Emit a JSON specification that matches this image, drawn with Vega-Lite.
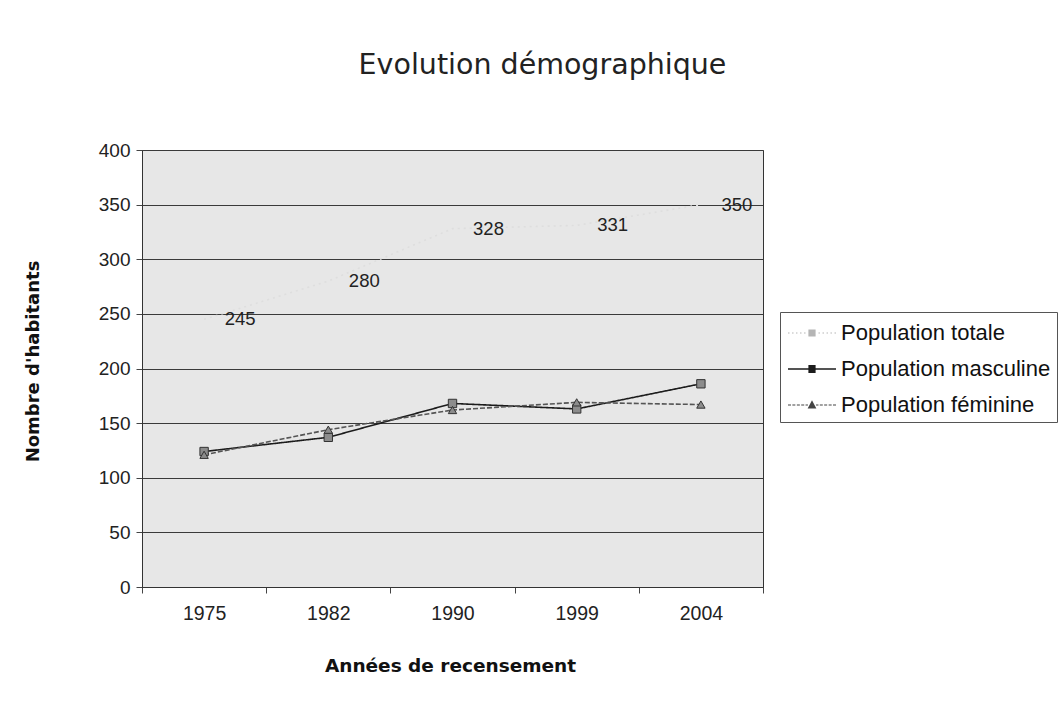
{
  "$schema": "https://vega.github.io/schema/vega-lite/v6.json",
  "width": 621,
  "height": 437,
  "autosize": "none",
  "padding": {"left": 142, "top": 150, "right": 295, "bottom": 123},
  "background": "white",
  "title": {
    "text": "Evolution démographique",
    "font": "DejaVu Sans",
    "fontSize": 28.5,
    "fontWeight": "normal",
    "color": "#222222",
    "anchor": "middle",
    "baseline": "alphabetic",
    "dx": 90,
    "offset": 39
  },
  "data": {
    "values": [
      {"annee": "1975", "serie": "Population totale", "valeur": 245},
      {"annee": "1982", "serie": "Population totale", "valeur": 280},
      {"annee": "1990", "serie": "Population totale", "valeur": 328},
      {"annee": "1999", "serie": "Population totale", "valeur": 331},
      {"annee": "2004", "serie": "Population totale", "valeur": 350},
      {"annee": "1975", "serie": "Population masculine", "valeur": 124},
      {"annee": "1982", "serie": "Population masculine", "valeur": 137},
      {"annee": "1990", "serie": "Population masculine", "valeur": 168},
      {"annee": "1999", "serie": "Population masculine", "valeur": 163},
      {"annee": "2004", "serie": "Population masculine", "valeur": 186},
      {"annee": "1975", "serie": "Population féminine", "valeur": 121},
      {"annee": "1982", "serie": "Population féminine", "valeur": 144},
      {"annee": "1990", "serie": "Population féminine", "valeur": 162},
      {"annee": "1999", "serie": "Population féminine", "valeur": 169},
      {"annee": "2004", "serie": "Population féminine", "valeur": 167}
    ]
  },
  "encoding": {
    "x": {
      "field": "annee",
      "type": "ordinal",
      "sort": null,
      "scale": {"type": "band", "paddingInner": 0, "paddingOuter": 0},
      "axis": {
        "title": "Années de recensement",
        "titleFont": "DejaVu Sans",
        "titleFontSize": 18.5,
        "titleFontWeight": "bold",
        "titleColor": "#111111",
        "titleX": 308,
        "titleY": 78,
        "titleBaseline": "middle",
        "titleAlign": "center",
        "labelAngle": 0,
        "labelFont": "Liberation Sans",
        "labelFontSize": 19.5,
        "labelColor": "#222222",
        "labelPadding": 11,
        "tickBand": "extent",
        "tickSize": 6,
        "tickColor": "#444444",
        "domainColor": "#333333",
        "grid": false
      }
    },
    "y": {
      "field": "valeur",
      "type": "quantitative",
      "scale": {"domain": [0, 400]},
      "axis": {
        "title": "Nombre d'habitants",
        "titleFont": "DejaVu Sans",
        "titleFontSize": 18,
        "titleFontWeight": "bold",
        "titleColor": "#111111",
        "titleX": -109,
        "titleY": 211,
        "titleAngle": -90,
        "titleAlign": "center",
        "titleBaseline": "middle",
        "values": [0, 50, 100, 150, 200, 250, 300, 350, 400],
        "labelFont": "Liberation Sans",
        "labelFontSize": 19,
        "labelColor": "#222222",
        "labelPadding": 6,
        "tickSize": 6,
        "tickColor": "#444444",
        "domainColor": "#333333",
        "grid": true,
        "gridColor": "#3a3a3a",
        "gridWidth": 1
      }
    }
  },
  "layer": [
    {
      "mark": {"type": "line", "strokeWidth": 1.6},
      "encoding": {
        "color": {
          "field": "serie",
          "type": "nominal",
          "scale": {
            "domain": ["Population totale", "Population masculine", "Population féminine"],
            "range": ["#dedede", "#1c1c1c", "#555555"]
          },
          "legend": null
        },
        "strokeDash": {
          "field": "serie",
          "type": "nominal",
          "scale": {
            "domain": ["Population totale", "Population masculine", "Population féminine"],
            "range": [[2, 4], [1, 0], [5, 2]]
          },
          "legend": null
        }
      }
    },
    {
      "transform": [{"filter": "datum.serie != 'Population totale'"}],
      "mark": {"type": "point", "filled": true, "fill": "#8c8c8c", "stroke": "#333333", "strokeWidth": 1, "opacity": 1, "size": 70},
      "encoding": {
        "shape": {
          "field": "serie",
          "type": "nominal",
          "scale": {
            "domain": ["Population masculine", "Population féminine"],
            "range": ["square", "triangle-up"]
          },
          "legend": null
        }
      }
    },
    {
      "transform": [{"filter": "datum.serie == 'Population totale'"}],
      "mark": {"type": "text", "font": "Liberation Sans", "fontSize": 18.5, "color": "#222222", "dx": 36, "align": "center", "baseline": "middle"},
      "encoding": {
        "text": {"field": "valeur", "type": "quantitative"}
      }
    },
    {
      "data": {
        "values": [
          {"legende": "Population totale"},
          {"legende": "Population masculine"},
          {"legende": "Population féminine"}
        ]
      },
      "transform": [{"filter": "false"}],
      "mark": {"type": "point", "filled": true, "opacity": 1},
      "encoding": {
        "x": {"value": 0},
        "y": {"value": 0},
        "color": {
          "field": "legende",
          "type": "nominal",
          "scale": {
            "domain": ["Population totale", "Population masculine", "Population féminine"],
            "range": ["#b5b5b5", "#1c1c1c", "#444444"]
          },
          "legend": {
            "title": null,
            "orient": "none",
            "legendX": 638,
            "legendY": 162,
            "direction": "vertical",
            "strokeColor": "#555555",
            "fillColor": "white",
            "padding": 6,
            "symbolSize": 900,
            "symbolOffset": 11,
            "symbolStrokeWidth": 0,
            "labelFont": "Liberation Sans",
            "labelFontSize": 22,
            "labelColor": "#111111",
            "labelOffset": 14,
            "labelLimit": 300,
            "rowPadding": 10
          }
        },
        "shape": {
          "field": "legende",
          "type": "nominal",
          "scale": {
            "domain": ["Population totale", "Population masculine", "Population féminine"],
            "range": [
              "M-1.6,-0.04H-1.5V0.04H-1.6Z M-1.33,-0.04H-1.23V0.04H-1.33Z M-1.07,-0.04H-0.97V0.04H-1.07Z M-0.8,-0.04H-0.7V0.04H-0.8Z M-0.53,-0.04H-0.43V0.04H-0.53Z M-0.24,-0.24H0.24V0.24H-0.24Z M0.43,-0.04H0.53V0.04H0.43Z M0.7,-0.04H0.8V0.04H0.7Z M0.97,-0.04H1.07V0.04H0.97Z M1.23,-0.04H1.33V0.04H1.23Z M1.5,-0.04H1.6V0.04H1.5Z",
              "M-1.6,-0.05H1.6V0.05H-1.6Z M-0.24,-0.27H0.24V0.27H-0.24Z",
              "M-1.6,-0.04H-1.4V0.04H-1.6Z M-1.31,-0.04H-1.11V0.04H-1.31Z M-1.01,-0.04H-0.81V0.04H-1.01Z M-0.72,-0.04H-0.52V0.04H-0.72Z M-0.43,-0.04H-0.27V0.04H-0.43Z M0,-0.32L0.29,0.24H-0.29Z M0.27,-0.04H0.43V0.04H0.27Z M0.52,-0.04H0.72V0.04H0.52Z M0.81,-0.04H1.01V0.04H0.81Z M1.11,-0.04H1.31V0.04H1.11Z M1.4,-0.04H1.6V0.04H1.4Z"
            ]
          },
          "legend": {
            "title": null,
            "orient": "none",
            "legendX": 638,
            "legendY": 162,
            "direction": "vertical",
            "strokeColor": "#555555",
            "fillColor": "white",
            "padding": 6,
            "symbolSize": 900,
            "symbolOffset": 11,
            "symbolStrokeWidth": 0,
            "labelFont": "Liberation Sans",
            "labelFontSize": 22,
            "labelColor": "#111111",
            "labelOffset": 14,
            "labelLimit": 300,
            "rowPadding": 10
          }
        }
      }
    }
  ],
  "resolve": {"scale": {"shape": "independent", "color": "independent"}},
  "config": {
    "view": {"fill": "#e7e7e7", "stroke": "#333333", "strokeWidth": 1}
  }
}
